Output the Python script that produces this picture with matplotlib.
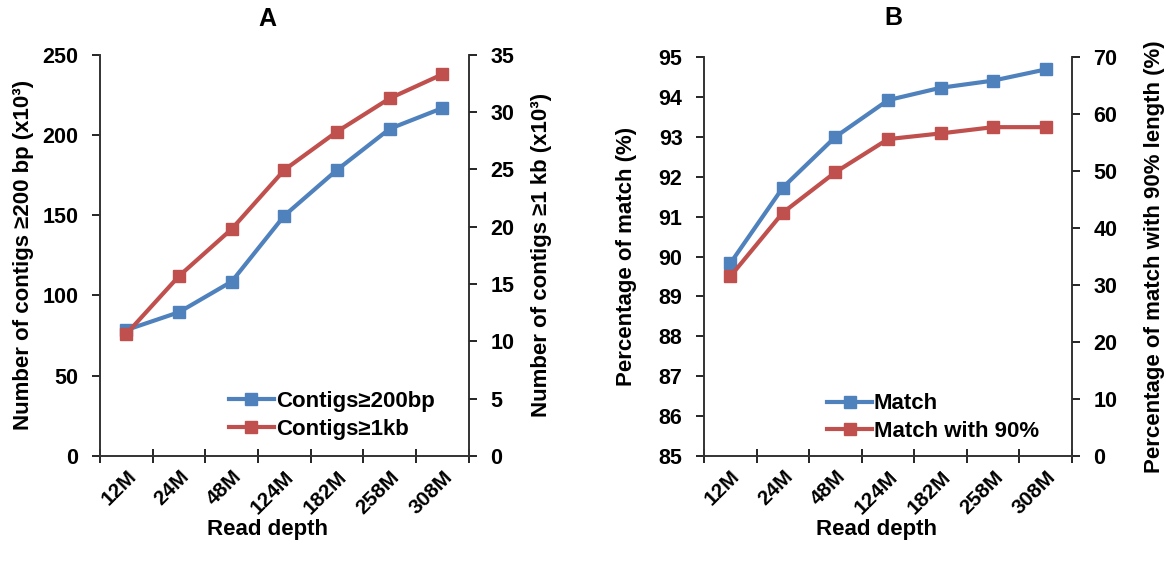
import matplotlib.pyplot as plt
import numpy as np

plt.rcParams['font.family'] = ['Liberation Sans', 'DejaVu Sans']
plt.rcParams['font.weight'] = 'bold'

# data
depths = ['12M', '24M', '48M', '124M', '182M', '258M', '308M']
contigs_200bp = [78.5, 89.6, 108.7, 149.8, 178.3, 203.9, 216.8]   # x10^3, left axis
contigs_1kb = [10.65, 15.7, 19.8, 24.96, 28.3, 31.2, 33.3]        # x10^3, right axis
match_pct = [89.83, 91.73, 93.0, 93.92, 94.23, 94.41, 94.69]      # left axis
match90_pct = [31.5, 42.7, 49.8, 55.6, 56.6, 57.7, 57.7]          # right axis

blue = '#4F81BD'
red = '#C0504D'
x = np.arange(len(depths))

fig = plt.figure(figsize=(11.66, 5.65), dpi=100)
axA = fig.add_axes([0.0858, 0.193, 0.3162, 0.710])
axB = fig.add_axes([0.6038, 0.193, 0.3156, 0.706])


def style_axes(ax, ax2):
    ax.set_xlim(-0.5, len(depths) - 0.5)
    ax.set_xticks(np.arange(-0.5, len(depths)), minor=False)
    ax.set_xticklabels([])
    ax.tick_params(axis='x', which='major', direction='inout', length=10, width=1.2)
    ax.set_xticks(x, minor=True)
    ax.set_xticklabels(depths, minor=True, rotation=45, ha='right', va='top',
                       rotation_mode='anchor', fontsize=15, fontweight='bold')
    ax.tick_params(axis='x', which='minor', length=0, pad=8)
    ax.tick_params(axis='y', direction='out', length=6, width=1.2, labelsize=15.5, pad=9.5)
    ax2.tick_params(axis='y', direction='out', length=6, width=1.2, labelsize=15.5, pad=9.5)
    for a in (ax, ax2):
        a.spines['top'].set_visible(False)
        for s in ('left', 'right', 'bottom'):
            a.spines[s].set_linewidth(1.2)
            a.spines[s].set_color('#333333')


# panel A
axA2 = axA.twinx()
l1, = axA.plot(x, contigs_200bp, color=blue, lw=3, marker='s', ms=9, label='Contigs≥200bp')
l2, = axA2.plot(x, contigs_1kb, color=red, lw=3, marker='s', ms=9, label='Contigs≥1kb')
axA.set_ylim(0, 250)
axA.set_yticks(range(0, 251, 50))
axA2.set_ylim(0, 35)
axA2.set_yticks(range(0, 36, 5))
style_axes(axA, axA2)
axA.set_xlabel('Read depth', fontsize=16, fontweight='bold', labelpad=1, x=0.455)
axA.set_ylabel('Number of contigs ≥200 bp (x10³)', fontsize=16, fontweight='bold', labelpad=6)
axA2.set_ylabel('Number of contigs ≥1 kb (x10³)', fontsize=16, fontweight='bold', labelpad=12)
axA.set_title('A', fontsize=18, fontweight='bold', pad=21, x=0.455)
axA.legend(handles=[l1, l2], loc='lower left', bbox_to_anchor=(0.35, 0.04), frameon=False,
           borderaxespad=0, borderpad=0, handlelength=2.0, handletextpad=0.1, labelspacing=0.3,
           prop={'weight': 'bold', 'size': 16})

# panel B
axB2 = axB.twinx()
m1, = axB.plot(x, match_pct, color=blue, lw=3, marker='s', ms=9, label='Match')
m2, = axB2.plot(x, match90_pct, color=red, lw=3, marker='s', ms=9, label='Match with 90%')
axB.set_ylim(85, 95)
axB.set_yticks(range(85, 96, 1))
axB2.set_ylim(0, 70)
axB2.set_yticks(range(0, 71, 10))
style_axes(axB, axB2)
axB.set_xlabel('Read depth', fontsize=16, fontweight='bold', labelpad=1, x=0.47)
axB.set_ylabel('Percentage of match (%)', fontsize=16, fontweight='bold', labelpad=15.5)
axB2.set_ylabel('Percentage of match with 90% length (%)', fontsize=16, fontweight='bold', labelpad=19)
axB.set_title('B', fontsize=18, fontweight='bold', pad=23, x=0.514)
axB.legend(handles=[m1, m2], loc='lower left', bbox_to_anchor=(0.335, 0.035), frameon=False,
           borderaxespad=0, borderpad=0, handlelength=2.0, handletextpad=0.1, labelspacing=0.3,
           prop={'weight': 'bold', 'size': 16})

fig.savefig('out.png', dpi=100)
